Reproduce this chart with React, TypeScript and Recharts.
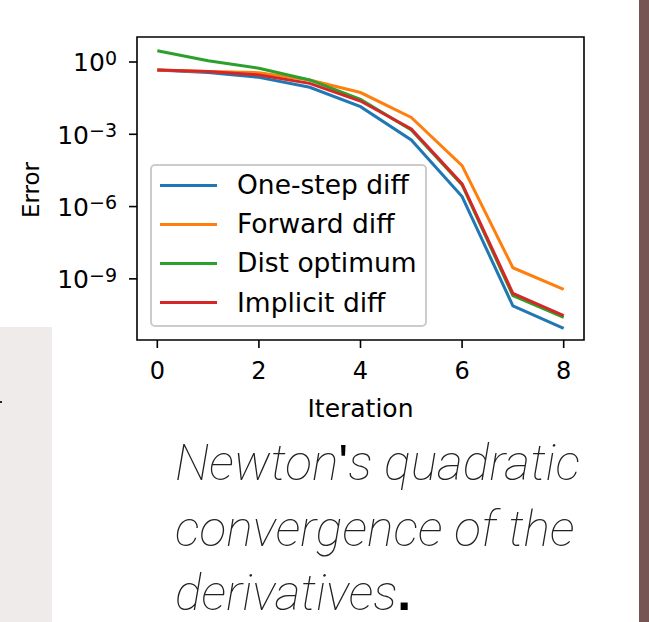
import React from 'react';
import { LineChart, Line, XAxis, YAxis, ReferenceArea } from 'recharts';

const iterations = [0, 1, 2, 3, 4, 5, 6, 7, 8];
const oneStepDiff = [0.47, 0.37, 0.23, 0.089, 0.014, 5.8e-4, 2.6e-6, 7.6e-11, 8.9e-12];
const forwardDiff = [0.47, 0.4, 0.36, 0.18, 0.054, 5.0e-3, 5.0e-5, 2.9e-9, 3.7e-10];
const distOptimum = [2.95, 1.12, 0.55, 0.18, 0.028, 1.5e-3, 7.9e-6, 2.0e-10, 2.5e-11];
const implicitDiff = [0.47, 0.4, 0.29, 0.13, 0.024, 1.66e-3, 8.7e-6, 2.5e-10, 2.95e-11];

const seriesNames = ['One-step diff', 'Forward diff', 'Dist optimum', 'Implicit diff'];
const seriesKeys = ['oneStep', 'forward', 'dist', 'implicit'];
const seriesColors = ['#1f77b4', '#ff7f0e', '#2ca02c', '#d62728'];
const seriesValues = [oneStepDiff, forwardDiff, distOptimum, implicitDiff];

const xTicks = [0, 2, 4, 6, 8];
const yTicks = [1, 1e-3, 1e-6, 1e-9];
const yTickExponents = ['0', '\u22123', '\u22126', '\u22129'];
const xDomain = [-0.4, 8.4];
const yDomain = [2.9e-12, 10.9];

const data = iterations.map((it, i) => {
  const row: Record<string, number> = { iteration: it };
  seriesKeys.forEach((k, s) => {
    row[k] = seriesValues[s][i];
  });
  return row;
});

const FONT = 'DejaVu Sans';

const YTick = (props: any) => {
  const { x, y, payload } = props;
  const idx = yTicks.findIndex((t) => Math.abs(Math.log10(t) - Math.log10(payload.value)) < 1e-6);
  const exp = idx >= 0 ? yTickExponents[idx] : '';
  return (
    <text x={x} y={y} textAnchor="end" fontFamily={FONT} fontSize={25} fill="#000">
      <tspan dy={9.5}>10</tspan>
      <tspan dy={-6.7} fontSize={19}>{exp}</tspan>
    </text>
  );
};

const XLabel = (props: any) => {
  const vb = props.viewBox || {};
  const cx = (vb.x || 0) + (vb.width || 0) / 2;
  const top = vb.y || 0;
  return (
    <text x={cx} y={top + 77} textAnchor="middle" fontFamily={FONT} fontSize={25} fill="#000">
      Iteration
    </text>
  );
};

const YLabel = () => (
  <text
    transform="translate(39,190) rotate(-90)"
    textAnchor="middle"
    fontFamily={FONT}
    fontSize={23}
    fill="#000"
  >
    Error
  </text>
);

const LegendBox = () => (
  <div
    style={{
      position: 'absolute',
      left: 150,
      top: 164,
      width: 277,
      height: 163,
      boxSizing: 'border-box',
      border: '2px solid #cccccc',
      borderRadius: 5,
      background: 'rgba(255,255,255,0.8)',
    }}
  >
    {seriesNames.map((name, i) => (
      <div
        key={name}
        style={{
          position: 'absolute',
          left: 0,
          top: 19 + i * 39.2 - 20,
          height: 40,
          width: 270,
          display: 'flex',
          alignItems: 'center',
        }}
      >
        <div style={{ marginLeft: 8, width: 57, height: 3, background: seriesColors[i] }} />
        <span
          style={{
            marginLeft: 20,
            fontFamily: FONT,
            fontSize: 26.5,
            color: '#000',
            lineHeight: '40px',
            whiteSpace: 'nowrap',
          }}
        >
          {name}
        </span>
      </div>
    ))}
  </div>
);

export default function App() {
  return (
    <div
      style={{
        position: 'absolute',
        left: 0,
        top: 0,
        width: 649,
        height: 622,
        background: '#ffffff',
        overflow: 'hidden',
      }}
    >
      <div style={{ position: 'absolute', left: 0, top: 327, width: 52, height: 295, background: '#efebea' }} />
      <div style={{ position: 'absolute', left: 0, top: 401, width: 2, height: 2, background: '#222' }} />
      <div style={{ position: 'absolute', left: 639, top: 0, width: 10, height: 622, background: '#765454' }} />
      <div style={{ position: 'absolute', left: 0, top: 0 }}>
        <LineChart width={649} height={622} data={data} margin={{ top: 37, right: 65, left: 0, bottom: 222 }}>
          <XAxis
            dataKey="iteration"
            type="number"
            domain={xDomain}
            ticks={xTicks}
            allowDataOverflow
            axisLine={false}
            tickSize={8}
            tickMargin={14}
            tickLine={{ stroke: '#000', strokeWidth: 1.6 }}
            tick={{ fontFamily: FONT, fontSize: 24, fill: '#000' }}
            height={60}
            label={<XLabel />}
          />
          <YAxis
            type="number"
            scale="log"
            domain={yDomain}
            ticks={yTicks}
            allowDataOverflow
            axisLine={false}
            tickSize={8}
            tickMargin={12}
            tickLine={{ stroke: '#000', strokeWidth: 1.6 }}
            tick={<YTick />}
            width={137}
            label={<YLabel />}
          />
          <ReferenceArea
            x1={xDomain[0]}
            x2={xDomain[1]}
            y1={yDomain[0]}
            y2={yDomain[1]}
            fill="none"
            fillOpacity={0}
            stroke="#000"
            strokeWidth={1.6}
            ifOverflow="visible"
          />
          {seriesKeys.map((k, s) => (
            <Line
              key={k}
              type="linear"
              dataKey={k}
              name={seriesNames[s]}
              stroke={seriesColors[s]}
              strokeWidth={3}
              dot={false}
              activeDot={false}
              isAnimationActive={false}
            />
          ))}
        </LineChart>
      </div>
      <LegendBox />
      <svg
        width={649}
        height={622}
        style={{ position: 'absolute', left: 0, top: 0, pointerEvents: 'none' }}
      >
        <g fontFamily="Roboto" fontStyle="italic" fontWeight={100} fontSize={50} fill="#222">
          <text x={175} y={480}>
            Newton
            <tspan fontStyle="normal" fontWeight={400} fill="#000" fontFamily="Liberation Sans">'</tspan>
            s quadratic
          </text>
          <text x={175} y={546}>
            convergence of the
          </text>
          <text x={175} y={610}>
            derivatives
            <tspan fontStyle="normal" fontWeight={700} fill="#000" fontFamily="Liberation Sans">.</tspan>
          </text>
        </g>
      </svg>
    </div>
  );
}
